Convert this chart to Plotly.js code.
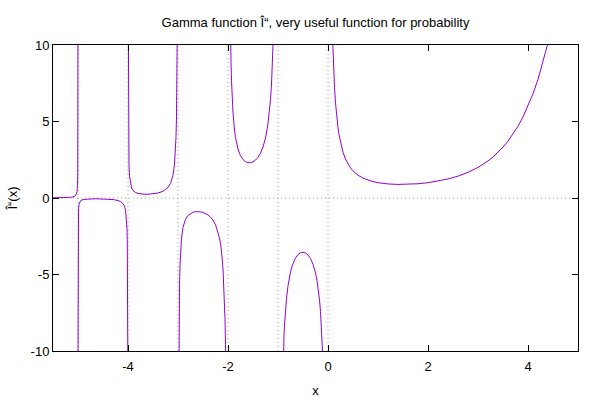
<!DOCTYPE html>
<html>
<head>
<meta charset="utf-8">
<script src="https://cdn.plot.ly/plotly-3.0.1.min.js"></script>
<style>html,body{margin:0;padding:0;background:#fff;}#chart{width:600px;height:400px;}</style>
</head>
<body>
<div id="chart"></div>
<script>
// Branch values (one array pair per branch between poles)
var xB1 = [-5.5, -5.4, -5.3, -5.2, -5.15, -5.1, -5.05, -5.02, -5.01, -5.005, -5.002, -5.001, -5.0008];
var yB1 = [0.0109, 0.0137, 0.0192, 0.0316, 0.0446, 0.0714, 0.1536, 0.403, 0.819, 1.653, 4.15, 8.3, 10.4];

var xB2 = [-4.9992, -4.999, -4.998, -4.995, -4.99, -4.98, -4.95, -4.9, -4.8, -4.7, -4.6, -4.5, -4.4, -4.3, -4.2, -4.15, -4.1, -4.07, -4.05, -4.03, -4.02, -4.015, -4.01, -4.007, -4.005, -4.004];
var yB2 = [-10.4, -8.36, -4.18, -1.681, -0.848, -0.4314, -0.1822, -0.1004, -0.0624, -0.0535, -0.0537, -0.0600, -0.0741, -0.1020, -0.1640, -0.2295, -0.3640, -0.5397, -0.7759, -1.3294, -2.023, -2.716, -4.105, -5.890, -8.27, -10.3];

var xB3 = [-3.997, -3.995, -3.993, -3.99, -3.985, -3.98, -3.97, -3.95, -3.93, -3.9, -3.85, -3.8, -3.75, -3.7, -3.6, -3.5, -3.4, -3.3, -3.25, -3.2, -3.15, -3.1, -3.07, -3.05, -3.04, -3.03, -3.025, -3.02, -3.015];
var yB3 = [13.95, 8.40, 6.016, 4.231, 2.842, 2.149, 1.4551, 0.9019, 0.6664, 0.4919, 0.3605, 0.2996, 0.2679, 0.2516, 0.2468, 0.2701, 0.3259, 0.4385, 0.5362, 0.6890, 0.9523, 1.4923, 2.1967, 3.142, 3.972, 5.355, 6.465, 8.131, 10.906];

var xB4 = [-2.99, -2.985, -2.98, -2.97, -2.96, -2.95, -2.93, -2.9, -2.85, -2.8, -2.75, -2.7, -2.65, -2.6, -2.55, -2.5, -2.45, -2.4, -2.35, -2.3, -2.25, -2.2, -2.17, -2.15, -2.13, -2.1, -2.08, -2.07, -2.06, -2.05, -2.04];
var yB4 = [-16.88, -11.33, -8.551, -5.777, -4.392, -3.563, -2.619, -1.918, -1.388, -1.1386, -1.0045, -0.9311, -0.8958, -0.8887, -0.9053, -0.9453, -1.0109, -1.1080, -1.2477, -1.4471, -1.7428, -2.2049, -2.623, -3.000, -3.497, -4.626, -5.860, -6.739, -7.926, -9.584, -12.07];

var xB5 = [-1.97, -1.96, -1.95, -1.94, -1.93, -1.92, -1.9, -1.87, -1.85, -1.8, -1.75, -1.7, -1.65, -1.6, -1.55, -1.5, -1.45, -1.4, -1.35, -1.3, -1.25, -1.2, -1.17, -1.15, -1.13, -1.12, -1.11, -1.1, -1.09];
var yB5 = [17.16, 13.0, 10.51, 8.853, 7.674, 6.792, 5.5635, 4.444, 3.9557, 3.1881, 2.7624, 2.5139, 2.3740, 2.3106, 2.3086, 2.3633, 2.4768, 2.6593, 2.9321, 3.3285, 3.9213, 4.8508, 5.692, 6.449, 7.448, 8.067, 8.804, 9.7145, 10.81];

var xB6 = [-0.95, -0.9, -0.89, -0.88, -0.87, -0.85, -0.83, -0.8, -0.78, -0.75, -0.72, -0.7, -0.65, -0.6, -0.55, -0.5, -0.45, -0.4, -0.35, -0.3, -0.28, -0.25, -0.22, -0.2, -0.17, -0.15, -0.13, -0.12, -0.11, -0.1];
var yB6 = [-20.49, -10.57, -9.677, -8.925, -8.311, -7.318, -6.568, -5.7385, -5.321, -4.8341, -4.468, -4.2737, -3.9171, -3.6970, -3.5784, -3.5449, -3.5914, -3.7230, -3.9583, -4.3270, -4.527, -4.9017, -5.398, -5.8211, -6.660, -7.4167, -8.416, -9.035, -9.773, -10.686];

var xB7 = [0.09, 0.095, 0.1, 0.11, 0.12, 0.13, 0.15, 0.17, 0.2, 0.22, 0.25, 0.28, 0.3, 0.35, 0.4, 0.45, 0.5, 0.6, 0.7, 0.8, 0.9, 1.0, 1.2, 1.4, 1.6, 1.8, 2.0, 2.2, 2.4, 2.6, 2.8, 3.0, 3.1, 3.2, 3.3, 3.4, 3.5, 3.6, 3.7, 3.8, 3.9, 4.0, 4.1, 4.2, 4.3, 4.4];
var yB7 = [10.62, 10.036, 9.5135, 8.6127, 7.8543, 7.2302, 6.2203, 5.4512, 4.5908, 4.1505, 3.6256, 3.2169, 2.9916, 2.5461, 2.2182, 1.9681, 1.7725, 1.4892, 1.2981, 1.1642, 1.0686, 1.0, 0.9182, 0.8873, 0.8935, 0.9314, 1.0, 1.1018, 1.2422, 1.4296, 1.6765, 2.0, 2.1976, 2.4240, 2.6834, 2.9812, 3.3234, 3.7170, 4.1707, 4.6942, 5.2993, 6.0, 6.8126, 7.7567, 8.8553, 10.136];

var poles = [-5, -4, -3, -2, -1, 0];
var xTicks = [-4, -2, 0, 2, 4];
var yTicks = [-10, -5, 0, 5, 10];

var titleText = 'Gamma function Î“, very useful function for probability';
var xTitle = 'x';
var yTitle = 'Î“(x)';

var branches = [[xB1, yB1], [xB2, yB2], [xB3, yB3], [xB4, yB4], [xB5, yB5], [xB6, yB6], [xB7, yB7]];
var purple = '#9400d3';
var traces = branches.map(function (b) {
  return {x: b[0], y: b[1], type: 'scatter', mode: 'lines',
          line: {color: purple, width: 1}, hoverinfo: 'skip', showlegend: false};
});

var dotted = {color: '#a0a0a0', width: 1, dash: '1px,3px'};
var shapes = poles.map(function (p) {
  return {type: 'line', xref: 'x', yref: 'paper', x0: p, x1: p, y0: 0, y1: 1, line: dotted, layer: 'below'};
});
shapes.push({type: 'line', xref: 'paper', yref: 'y', x0: 0, x1: 1, y0: 0, y1: 0, line: dotted, layer: 'below'});

var font = {family: 'Liberation Sans, Arial, sans-serif', size: 13, color: '#000'};
var axisCommon = {
  showgrid: false, zeroline: false, showline: true, mirror: 'allticks',
  linecolor: '#000', linewidth: 1, ticks: 'inside', ticklen: 6, tickwidth: 1,
  tickcolor: '#000', tickfont: font, fixedrange: true
};

var layout = {
  width: 600, height: 400,
  margin: {l: 53, r: 22, t: 45, b: 49, pad: 0},
  paper_bgcolor: '#fff', plot_bgcolor: '#fff',
  font: font,
  title: {text: titleText, font: font, x: 0.5, xanchor: 'center', y: 0.945, yanchor: 'middle', xref: 'paper'},
  xaxis: Object.assign({}, axisCommon, {
    range: [-5.5, 5], tickmode: 'array', tickvals: xTicks, ticktext: xTicks.map(String),
    ticklabelstandoff: 3,
    title: {text: xTitle, font: font, standoff: 13}
  }),
  yaxis: Object.assign({}, axisCommon, {
    range: [-10, 10], tickmode: 'array', tickvals: yTicks, ticktext: yTicks.map(String),
    title: {text: yTitle, font: font, standoff: 10}
  }),
  shapes: shapes,
  showlegend: false
};

Plotly.newPlot('chart', traces, layout, {displayModeBar: false, staticPlot: true});
</script>
</body>
</html>
